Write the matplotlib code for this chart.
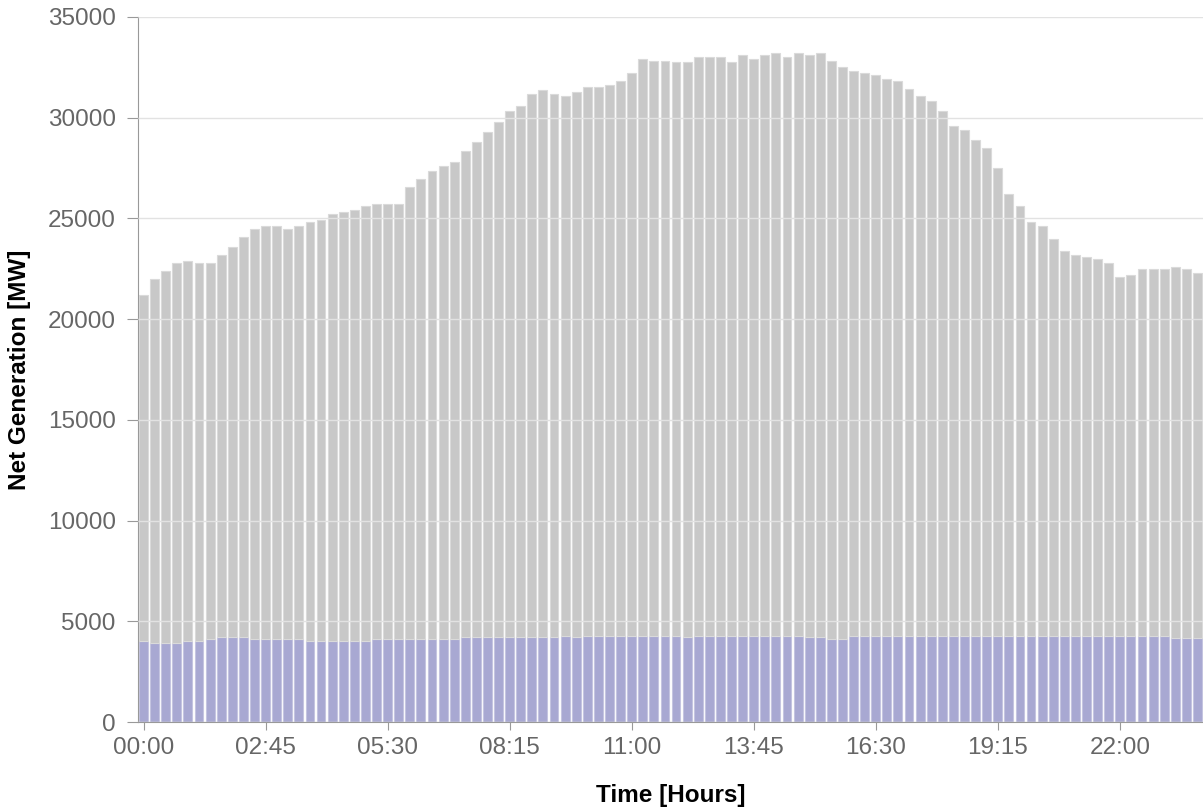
import matplotlib.pyplot as plt
import numpy as np

plt.rcParams['font.family'] = ['Liberation Sans', 'DejaVu Sans']

# 15-minute slots over one day
times = [f"{h:02d}:{m:02d}" for h in range(24) for m in (0, 15, 30, 45)]

# lower (lavender) series [MW]
base = [4000, 3900, 3900, 3900, 4000, 4000, 4100, 4200, 4200, 4200,
        4100, 4100, 4100, 4100, 4100, 4000, 4000, 4000, 4000, 4000,
        4000, 4100, 4100, 4100, 4100, 4100, 4100, 4100, 4100, 4200,
        4200, 4200, 4200, 4200, 4200, 4200, 4200, 4200, 4270, 4200,
        4270, 4270, 4270, 4270, 4270, 4270, 4270, 4270, 4270, 4200,
        4270, 4270, 4270, 4270, 4270, 4270, 4270, 4270, 4270, 4270,
        4200, 4200, 4100, 4100, 4270, 4270, 4270, 4270, 4270, 4270,
        4270, 4270, 4270, 4270, 4270, 4270, 4270, 4270, 4270, 4270,
        4270, 4270, 4270, 4270, 4270, 4270, 4270, 4270, 4270, 4270,
        4270, 4270, 4270, 4150, 4150, 4150]

# upper (grey) series [MW]
rest = [17200, 18100, 18500, 18900, 18900, 18800, 18700, 19000, 19400, 19900,
        20400, 20500, 20500, 20400, 20500, 20800, 20900, 21200, 21300, 21400,
        21600, 21600, 21600, 21600, 22450, 22850, 23250, 23500, 23700, 24150,
        24600, 25100, 25600, 26150, 26400, 27000, 27200, 27000, 26830, 27100,
        27230, 27230, 27330, 27530, 27930, 28630, 28530, 28530, 28480, 28550,
        28730, 28730, 28730, 28480, 28830, 28630, 28830, 28930, 28730, 28930,
        28900, 29000, 28700, 28400, 28030, 27930, 27830, 27630, 27530, 27180,
        26830, 26580, 26080, 25330, 25130, 24630, 24230, 23230, 21930, 21330,
        20530, 20330, 19730, 19130, 18930, 18830, 18730, 18530, 17830, 17930,
        18230, 18230, 18230, 18450, 18350, 18150]

x = np.arange(len(times))

fig = plt.figure(figsize=(12.03, 8.09), dpi=100)
ax = fig.add_axes([0.1147, 0.1075, 0.8853, 0.8715])

ax.bar(x, base, width=0.8, color='#a8a8d2', edgecolor='#c4c4e0', linewidth=0.8, zorder=2)
ax.bar(x, rest, bottom=base, width=0.8, color='#c8c8c8', edgecolor='#dadada', linewidth=0.8, zorder=2)

ax.set_xlim(-0.5, len(times) - 0.5)
ax.set_ylim(0, 35000)
ax.set_yticks(range(0, 35001, 5000))
ax.set_xticks(x[::11])
ax.set_xticklabels(times[::11])

ax.yaxis.grid(True, color='#e2e2e2', linewidth=1, zorder=3)
ax.set_axisbelow(False)

for s in ('top', 'right'):
    ax.spines[s].set_visible(False)
ax.spines['left'].set_color('#999999')
ax.spines['bottom'].set_color('#999999')

ax.tick_params(axis='both', colors='#999999', labelcolor='#666666', labelsize=17.5)
ax.tick_params(axis='y', length=8, pad=8)
ax.tick_params(axis='x', length=6, pad=5)

ax.set_ylabel('Net Generation [MW]', fontsize=17.5, fontweight='bold', labelpad=12)
ax.set_xlabel('Time [Hours]', fontsize=17.5, fontweight='bold', labelpad=18)

fig.savefig('out.png', dpi=100)
